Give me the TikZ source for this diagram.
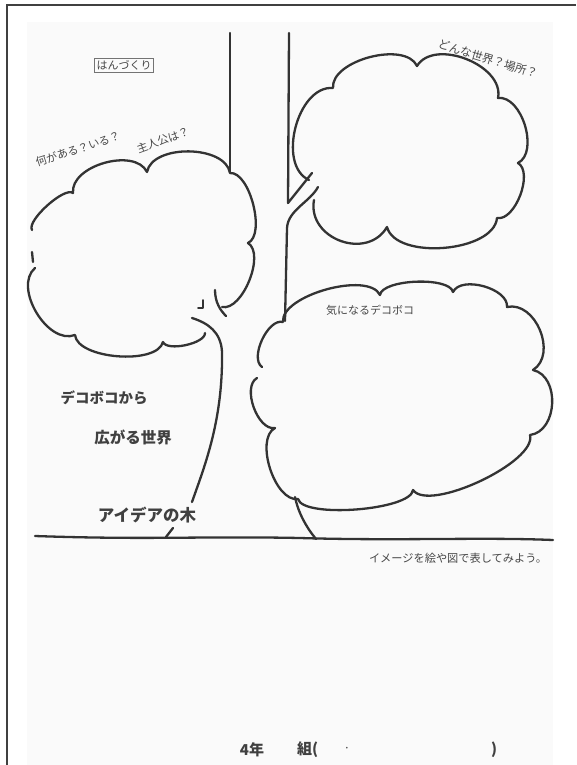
\documentclass[tikz,border=0pt]{standalone}
\usepackage{fontspec}
\newfontfamily\jpfont{Noto Sans CJK JP}
\begin{document}
\begin{tikzpicture}[x=1pt,y=-1pt]
\tikzset{
  ink/.style={line width=2.3pt, draw=black!80, line cap=round, line join=round},
  thin ink/.style={line width=1.8pt, draw=black!80, line cap=round, line join=round},
  lb/.style={bend left=80, looseness=#1},
  jp/.style={font=\jpfont\fontsize{#1}{#1}\selectfont, text=black!72, inner sep=0pt},
  jpb/.style={font=\jpfont\bfseries\fontsize{#1}{#1}\selectfont, text=black!75, inner sep=0pt},
}
\useasboundingbox (0,0) rectangle (576,765);
\fill[white] (0,0) rectangle (576,765);
\fill[black!2] (27,22) rectangle (553,765);
% frame
\draw[line width=2pt, draw=black!75] (7,765) -- (7,5) -- (576,5);

% trunk
\draw[ink] (230,33) -- (230,172);
\draw[ink] (289,33) -- (288,203) -- (312,173);
\draw[ink] (318,187) .. controls (310,202) and (288,210) .. (287,228) -- (285,321);
\draw[ink] (215,290) .. controls (215,302) and (220,310) .. (226,316);
\draw[ink] (192,318) .. controls (208,323) and (221,332) .. (222,352) .. controls (223,420) and (205,465) .. (192,502);
\draw[thin ink] (203,300) -- (203,308) -- (198,308);
\draw[ink] (166,537) -- (173,528);
\draw[ink] (295,497) .. controls (298,512) and (306,527) .. (316,539);
% ground
\draw[ink] (35,536) .. controls (150,540) and (200,536) .. (300,538) .. controls (400,541) and (480,537) .. (553,540);

% upper-left cloud
\draw[ink] (32,230) to[lb=.5] (73,193) to[lb=.92] (147,172) to[lb=.88] (230,173) to[lb=.7] (248,243) to[lb=.77] (222,307);
\draw[ink] (205,333) to[lb=.63] (163,342) to[lb=.7] (75,335) to[lb=.96] (35,268);
\draw[ink] (32,252) -- (33,262);

% upper-right cloud
\draw[ink] (309,180) to[lb=.96] (333,88) to[lb=.82] (417,66) to[lb=.98] (498,98) to[lb=.9] (518,163) to[lb=.8] (497,218) to[lb=.8] (387,227) to[lb=1.3] (314,200);

% lower-right cloud
\draw[ink] (262,367) to[lb=.8] (283,322) to[lb=.68] (380,295) to[lb=.56] (453,292) to[lb=.85] (507,307) to[lb=1.1] (533,370) to[lb=1.1] (530,435) to[lb=.55] (413,490) to[lb=.45] (298,499) to[lb=.8] (275,428) to[lb=.85] (257,378);

% texts
\node[jp=11, draw=black!55, line width=0.6pt, inner sep=2pt] (han) at (124,65) {はんづくり};
\node[jp=11, rotate=18] (nani) at (78,149) {何がある？いる？};
\node[jp=11, rotate=20] (shu) at (163,140) {主人公は？};
\node[jp=11.5, rotate=-17] (donna) at (488,59) {どんな世界？場所？};
\node[jp=11] (ki) at (370,310) {気になるデコボコ};
\node[jpb=14.5] (deko) at (104,398) {デコボコから};
\node[jpb=15.5] (hiro) at (133,437) {広がる世界};
\node[jpb=16.5] (idea) at (147,515) {アイデアの木};
\node[jp=11.2] (image) at (458,558) {イメージを絵や図で表してみよう。};
\node[jpb=15] (nen) at (252,750) {4年};
\node[jpb=15, anchor=west] (kumi) at (297,750) {組(};
\node[jp=12] (dot) at (347,750) {·};
\node[jpb=15] (close) at (494,750) {)};
\end{tikzpicture}
\end{document}
